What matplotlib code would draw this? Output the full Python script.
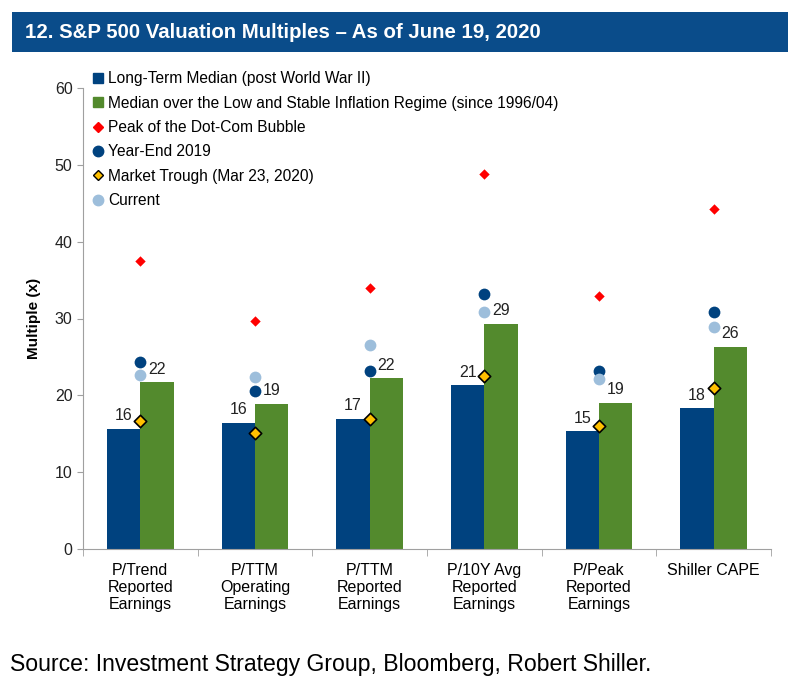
import matplotlib
matplotlib.use("Agg")
import matplotlib.pyplot as plt
import numpy as np
from matplotlib.patches import Rectangle
from matplotlib.lines import Line2D

plt.rcParams['font.family'] = ['Liberation Sans', 'DejaVu Sans']

categories = ["P/Trend\nReported\nEarnings", "P/TTM\nOperating\nEarnings", "P/TTM\nReported\nEarnings",
              "P/10Y Avg\nReported\nEarnings", "P/Peak\nReported\nEarnings", "Shiller CAPE"]
long_term_median = [15.6, 16.4, 16.9, 21.3, 15.3, 18.3]
low_infl_median = [21.7, 18.9, 22.2, 29.3, 19.0, 26.3]
long_term_labels = ["16", "16", "17", "21", "15", "18"]
low_infl_labels = ["22", "19", "22", "29", "19", "26"]
dotcom_peak = [37.5, 29.7, 34.0, 48.8, 32.9, 44.2]
year_end_2019 = [24.3, 20.6, 23.2, 33.2, 23.2, 30.9]
market_trough = [16.6, 15.05, 16.9, 22.5, 16.05, 21.0]
current = [22.6, 22.4, 26.6, 30.8, 22.1, 28.9]

series_names = ["Long-Term Median (post World War II)",
                "Median over the Low and Stable Inflation Regime (since 1996/04)",
                "Peak of the Dot-Com Bubble", "Year-End 2019",
                "Market Trough (Mar 23, 2020)", "Current"]

c_blue = "#00427F"
c_green = "#538A2D"
c_red = "#FF0000"
c_dark = "#00427F"
c_yellow = "#FFC000"
c_light = "#9DBEDB"

fig = plt.figure(figsize=(8, 6.87), dpi=100)
# title bar
fig.patches.append(Rectangle((12/800, 1-52/687), 776/800, 40/687, transform=fig.transFigure,
                             facecolor="#0A4C8A", edgecolor="none"))
fig.text(25/800, 1-33/687, "12. S&P 500 Valuation Multiples \u2013 As of June 19, 2020",
         color="white", fontsize=14.7, fontweight="bold", va="center", ha="left")

ax = fig.add_axes([83/800, 1-549/687, 688/800, 461/687])
x = np.arange(len(categories))
w = 0.29
ax.bar(x - w/2, long_term_median, w, color=c_blue, zorder=2)
ax.bar(x + w/2, low_infl_median, w, color=c_green, zorder=2)
ax.scatter(x, dotcom_peak, marker="D", s=28, color=c_red, zorder=3, linewidths=0)
ax.scatter(x, year_end_2019, marker="o", s=72, color=c_dark, zorder=3, linewidths=0)
ax.scatter(x, current, marker="o", s=72, color=c_light, zorder=3, linewidths=0)
ax.scatter(x, market_trough, marker="D", s=40, color=c_yellow, edgecolor="black", linewidths=1.2, zorder=4)

for xi, v, t in zip(x, long_term_median, long_term_labels):
    ax.annotate(t, (xi - w/2, v), xytext=(0, 9.5), textcoords="offset points",
                ha="center", va="center", fontsize=11.5, color="#222222")
for xi, v, t in zip(x, low_infl_median, low_infl_labels):
    ax.annotate(t, (xi + w/2, v), xytext=(0, 9.5), textcoords="offset points",
                ha="center", va="center", fontsize=11.5, color="#222222")

ax.set_xlim(-0.5, len(categories) - 0.5)
ax.set_ylim(0, 60)
ax.set_yticks(np.arange(0, 61, 10))
ax.tick_params(axis="y", labelsize=11.5, colors="#222222", length=4, color="#A0A0A0")
ax.set_xticks(x)
ax.set_xticklabels(categories, fontsize=11.5, linespacing=1.18)
ax.tick_params(axis="x", length=0, pad=10)
ax.set_xticks(np.arange(-0.5, len(categories) + 0.5, 1), minor=True)
ax.tick_params(axis="x", which="minor", length=5, color="#A0A0A0")
for s in ["top", "right"]:
    ax.spines[s].set_visible(False)
for s in ["left", "bottom"]:
    ax.spines[s].set_color("#A0A0A0")
ax.set_ylabel("Multiple (x)", fontsize=11, fontweight="bold", labelpad=4)
ax.yaxis.set_label_coords(-42/688, 0.5)

handles = [
    Line2D([], [], marker="s", ls="none", color=c_blue, markersize=7),
    Line2D([], [], marker="s", ls="none", color=c_green, markersize=7),
    Line2D([], [], marker="D", ls="none", color=c_red, markersize=5),
    Line2D([], [], marker="o", ls="none", color=c_dark, markersize=7.5),
    Line2D([], [], marker="D", ls="none", markerfacecolor=c_yellow, markeredgecolor="black", markersize=5.5),
    Line2D([], [], marker="o", ls="none", color=c_light, markersize=7.5),
]
ax.legend(handles, series_names, loc="upper left", bbox_to_anchor=(10/688, 1.036), frameon=False,
          fontsize=11.2, handlelength=0.7, handletextpad=0.25, labelspacing=0.6, borderaxespad=0,
          borderpad=0)

fig.text(10/800, 1-664/687, "Source: Investment Strategy Group, Bloomberg, Robert Shiller.",
         fontsize=16.6, va="center", ha="left", color="black")

fig.savefig("out.png", dpi=100)
